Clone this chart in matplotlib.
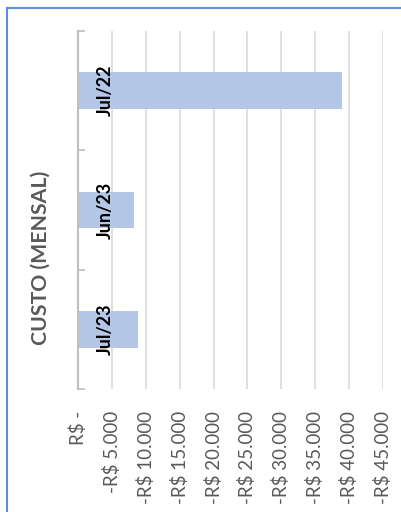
import matplotlib
matplotlib.use("Agg")
import matplotlib.pyplot as plt
from matplotlib.lines import Line2D

plt.rcParams['font.family'] = ['Lato', 'DejaVu Sans']

# data (custo mensal, valores negativos)
meses = ["Jul/22", "Jun/23", "Jul/23"]
custos = [-39000, -8200, -8900]
ticks = [0, -5000, -10000, -15000, -20000, -25000, -30000, -35000, -40000, -45000]
tick_labels = ["R$ -", "-R$ 5.000", "-R$ 10.000", "-R$ 15.000", "-R$ 20.000",
               "-R$ 25.000", "-R$ 30.000", "-R$ 35.000", "-R$ 40.000", "-R$ 45.000"]

W, H = 401, 512
fig = plt.figure(figsize=(W / 100, H / 100), dpi=100)
fig.patch.set_facecolor("white")

# plot area in pixels
left, right, top, bottom = 78, 383, 31, 389
ax = fig.add_axes([left / W, 1 - bottom / H, (right - left) / W, (bottom - top) / H])

pos = list(range(len(meses)))
ax.barh(pos, custos, height=0.31, color="#B4C7E7", zorder=2)

ax.set_xlim(0, -45000)
ax.set_ylim(len(meses) - 0.5, -0.5)

ax.set_xticks(ticks)
ax.set_xticklabels(tick_labels, rotation=90, color="#595959", fontsize=13.5)
ax.tick_params(axis="x", length=0, pad=16)
ax.xaxis.grid(True, color="#D9D9D9", linewidth=1.2, zorder=0)

# category ticks on boundaries
ax.set_yticks([p - 0.5 for p in pos] + [pos[-1] + 0.5])
ax.set_yticklabels([])
ax.tick_params(axis="y", direction="in", length=5, color="#BFBFBF", width=1.2)

# category labels sitting over the bars
for p, m in zip(pos, meses):
    ax.text(0.09, p, m, transform=ax.get_yaxis_transform(), rotation=90,
            ha="center", va="center", fontsize=13, fontweight="bold",
            color="black", zorder=5)

for s in ["top", "right", "bottom"]:
    ax.spines[s].set_visible(False)
ax.spines["left"].set_color("#BFBFBF")
ax.spines["left"].set_linewidth(1.5)
ax.set_facecolor("none")

fig.text(41 / W, 1 - 258 / H, "CUSTO (MENSAL)", rotation=90, ha="center", va="center",
         fontsize=15.3, fontweight="bold", color="#595959")

# chart border
fig.add_artist(Line2D([7 / W, 1], [1 - 8 / H, 1 - 8 / H], transform=fig.transFigure,
                      color="#5B8FD9", linewidth=1.5))
fig.add_artist(Line2D([7 / W, 7 / W], [0, 1 - 8 / H], transform=fig.transFigure,
                      color="#5B8FD9", linewidth=1.5))

fig.savefig("out.png", dpi=100, facecolor="white")
